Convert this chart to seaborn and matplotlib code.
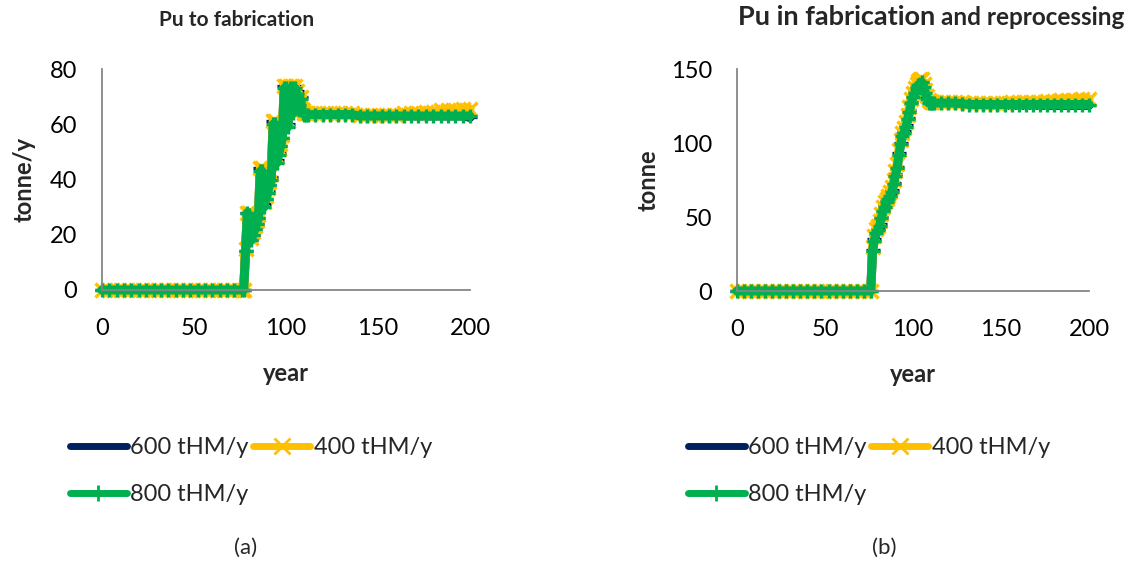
import seaborn as sns
import matplotlib.pyplot as plt
import pandas as pd
from matplotlib.lines import Line2D

# years: sparse where the curves are flat, yearly through the build-up
years = list(range(0, 77, 4)) + list(range(77, 112)) + list(range(112, 201, 4))

zeros = [0, 0, 0, 0, 0, 0, 0, 0, 0, 0, 0, 0, 0, 0, 0, 0, 0, 0, 0, 0]

# (a) Pu to fabrication, tonne/y
fab_600 = zeros + [0, 14, 28, 28, 18, 20, 22, 24, 26, 44, 44, 31, 33, 36, 38, 41, 61, 61,
                   47, 50, 52, 55, 74, 74, 60, 74, 74, 64, 74, 72, 67, 70, 64, 63.5, 63.5] + \
          [64, 64, 64, 64, 64, 64, 64, 63.5, 63, 63, 63, 63, 63, 63, 63, 63, 63, 63, 63, 63, 63, 63, 62.5]
fab_400 = zeros + [0, 15, 28, 28, 19, 21, 23, 25, 27, 44, 44, 32, 34, 37, 39, 42, 61, 61,
                   48, 51, 53, 56, 74, 74, 61, 74, 74, 65, 74, 72, 68, 70, 65, 64, 64] + \
          [64, 64, 64, 64, 64, 64, 64, 63.5, 63.5, 63.5, 63.5, 63.5, 63.5, 64, 64, 64, 64.5, 64.5, 65, 65, 65, 65.5, 65.5]
fab_800 = zeros + [0, 14, 28, 27, 18, 20, 22, 24, 26, 43, 43, 30, 33, 35, 38, 40, 60, 60,
                   46, 49, 52, 55, 73, 73, 59, 73, 73, 64, 73, 71, 67, 69, 64, 63.5, 63.5] + \
          [63.5, 63.5, 63.5, 63.5, 63.5, 63.5, 63.5, 63, 63, 63, 63, 63, 63, 63, 63, 63, 63, 63, 63, 63, 63, 63, 63]

# (b) Pu in fabrication and reprocessing, tonne
inv_600 = zeros + [28, 35, 40, 42, 45, 50, 55, 58, 61, 63, 65, 68, 73, 79, 84, 93, 100, 106,
                   108, 112, 117, 122, 128, 132, 135, 138, 140, 141, 142, 139, 135, 131, 128, 127, 127] + \
          [127, 127, 127, 127, 127, 126.5, 126, 126, 125.5, 125.5, 125.5, 125.5, 125.5, 125.5, 125.5, 125.5, 125.5, 125.5, 125.5, 125.5, 125.5, 125.5, 125.5]
inv_400 = zeros + [30, 37, 42, 44, 47, 52, 57, 60, 62, 64, 67, 70, 75, 81, 86, 95, 102, 107,
                   110, 114, 119, 124, 130, 134, 137, 140, 142, 143, 143, 140, 136, 132, 129, 128, 128] + \
          [128, 128, 128, 128, 127.5, 127, 127, 127, 127, 127, 127, 127.5, 127.5, 128, 128, 128, 128.5, 128.5, 129, 129, 129, 129.5, 129.5]
inv_800 = zeros + [27, 34, 39, 41, 44, 49, 54, 57, 60, 62, 64, 67, 72, 78, 83, 92, 99, 105,
                   107, 111, 116, 121, 127, 131, 134, 137, 139, 140, 141, 138, 134, 130, 127, 127, 127] + \
          [127, 127, 127, 127, 126.5, 126, 126, 126, 126, 126, 126, 126, 126, 126, 126, 126, 126, 126, 126, 126, 126, 126, 126]

series_names = ['600 tHM/y', '400 tHM/y', '800 tHM/y']
colors = ['#002060', '#FFC000', '#00B050']
markers = ['_', 'x', '+']

df_a = pd.DataFrame({'year': years, '600 tHM/y': fab_600, '400 tHM/y': fab_400, '800 tHM/y': fab_800})
df_b = pd.DataFrame({'year': years, '600 tHM/y': inv_600, '400 tHM/y': inv_400, '800 tHM/y': inv_800})

sns.set_style("white")
plt.rcParams['font.family'] = ['Lato', 'DejaVu Sans']

W, H = 1135, 568
fig = plt.figure(figsize=(W / 100, H / 100), dpi=100)
ax_a = fig.add_axes([102 / W, 1 - 290 / H, 368 / W, 221 / H])
ax_b = fig.add_axes([737 / W, 1 - 291 / H, 352 / W, 222 / H])

for ax, df, ymax, ystep, ylab in [(ax_a, df_a, 80, 20, 'tonne/y'), (ax_b, df_b, 150, 50, 'tonne')]:
    for name, c, m in zip(series_names, colors, markers):
        sns.lineplot(x='year', y=name, data=df, ax=ax, color=c, lw=6.5, marker=m,
                     markersize=10, markeredgewidth=2.4, markeredgecolor=c,
                     clip_on=False, sort=False, legend=False)
    ax.set_xlim(0, 200)
    ax.set_ylim(0, ymax)
    ax.set_xticks(range(0, 201, 50))
    ax.set_yticks(range(0, ymax + 1, ystep))
    for s in ['top', 'right']:
        ax.spines[s].set_visible(False)
    for s in ['left', 'bottom']:
        ax.spines[s].set_color('#868686')
        ax.spines[s].set_linewidth(1.3)
    ax.tick_params(axis='both', direction='out', length=6, width=1.3, color='#868686',
                   labelsize=17, labelcolor='black')
    ax.tick_params(axis='x', pad=14)
    ax.tick_params(axis='y', pad=12)
    ax.set_xlabel('year', fontsize=17, fontweight='bold', labelpad=17)
    ax.set_ylabel(ylab, fontsize=17, fontweight='bold', labelpad=8)
ax_a.yaxis.labelpad = 10

# titles
fig.text(237 / W, 1 - 20 / H, 'Pu to fabrication', fontsize=15, fontweight='bold', ha='center', va='center')
t1 = fig.text(738 / W, 1 - 25 / H, 'Pu in fabrication', fontsize=19.5, fontweight='bold', ha='left', va='baseline')
fig.canvas.draw()
bb = t1.get_window_extent(renderer=fig.canvas.get_renderer())
fig.text(bb.x1 / W + 6 / W, 1 - 25 / H, 'and reprocessing', fontsize=17.5, fontweight='bold', ha='left', va='baseline')

# legends
handles = []
for name, c, m in zip(series_names, colors, markers):
    handles.append(Line2D([], [], color=c, lw=5, marker=m, markersize=12, markeredgewidth=2,
                          solid_capstyle='round', label=name))
order = [0, 2, 1]
for x0 in [70, 688]:
    fig.legend([handles[i] for i in order], [series_names[i] for i in order],
               loc='upper left', bbox_to_anchor=(x0 / W, 1 - 437 / H), ncol=2, frameon=False,
               fontsize=17, handlelength=2.4, handletextpad=0.15, columnspacing=0.2,
               labelspacing=1.1, borderpad=0, borderaxespad=0, markerscale=1)

fig.text(246 / W, 1 - 548 / H, '(a)', fontsize=16, ha='center', va='center')
fig.text(884 / W, 1 - 548 / H, '(b)', fontsize=16, ha='center', va='center')

fig.savefig('out.png', dpi=100)
